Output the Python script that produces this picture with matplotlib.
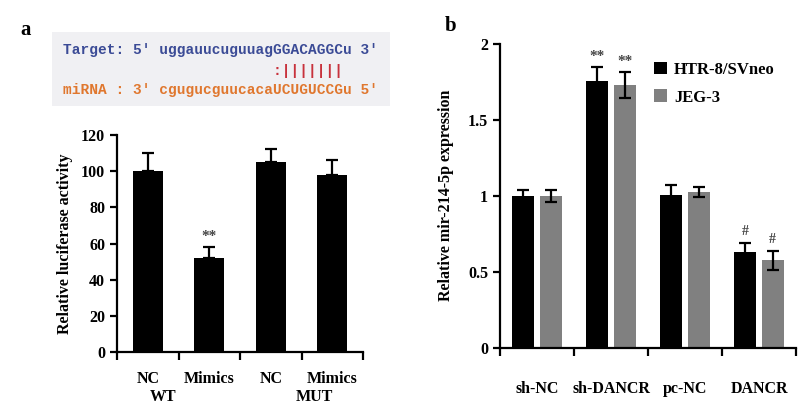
import matplotlib.pyplot as plt
import matplotlib.patches as mpatches
import numpy as np

plt.rcParams['font.family'] = 'Liberation Serif'
plt.rcParams['font.weight'] = 'bold'
plt.rcParams['axes.labelweight'] = 'bold'

# panel a data
luc_groups = ["NC", "Mimics", "NC", "Mimics"]
luc_mean = [100, 52, 105, 98]
luc_err = [10, 6, 7, 8]
luc_constructs = ["WT", "MUT"]
luc_ticks = [0, 20, 40, 60, 80, 100, 120]

# panel b data
expr_groups = ["sh-NC", "sh-DANCR", "pc-NC", "DANCR"]
expr_htr = [1.0, 1.755, 1.005, 0.63]
expr_htr_err = [0.035, 0.09, 0.065, 0.06]
expr_jeg = [1.0, 1.725, 1.027, 0.575]
expr_jeg_err = [0.04, 0.085, 0.032, 0.065]
expr_marks = ["", "**", "", "#"]
expr_ticks = [0, 0.5, 1, 1.5, 2]
expr_ticklabels = ["0", "0.5", "1", "1.5", "2"]

W, H = 800, 407
fig = plt.figure(figsize=(8, 4.07), dpi=100)


def px_axes(x0, y0, x1, y1):
    # pixel box (top-left origin) -> figure axes
    return fig.add_axes([x0 / W, 1 - y1 / H, (x1 - x0) / W, (y1 - y0) / H])


def fx(x):
    return x / W


def fy(y):
    return 1 - y / H


def style_axes(ax):
    for s in ["top", "right"]:
        ax.spines[s].set_visible(False)
    for s in ["left", "bottom"]:
        ax.spines[s].set_linewidth(1.6)
    ax.tick_params(axis="y", width=1.6, length=5, labelsize=11.5)
    ax.tick_params(axis="x", which="major", length=0, labelsize=11.5)
    ax.tick_params(axis="x", which="minor", width=1.6, length=6)


# ---- panel a ----
fig.text(fx(20), fy(30), "a", fontsize=15, fontweight="bold", va="center", ha="left")

box = mpatches.Rectangle((fx(52), fy(106)), fx(390) - fx(52), fy(32) - fy(106),
                         transform=fig.transFigure, facecolor="#f0f0f3", edgecolor="none")
fig.patches.append(box)
seq_font = dict(family="Liberation Mono", fontsize=10.45, fontweight="bold", va="center", ha="left")
fig.text(fx(63), fy(50), "Target: 5' uggauucuguuagGGACAGGCu 3'", color="#3b4b96", **seq_font)
fig.text(fx(63), fy(71), " " * 24 + ":|||||||", color="#c8323c", **seq_font)
fig.text(fx(63), fy(90), "miRNA : 3' cgugucguucacaUCUGUCCGu 5'", color="#e0772e", **seq_font)

ax1 = px_axes(117, 135, 363, 352)
xa = np.arange(1, len(luc_groups) + 1)
ax1.bar(xa, luc_mean, width=0.49, color="black")
ax1.errorbar(xa, luc_mean, yerr=[np.zeros(len(luc_err)), luc_err], fmt="none",
             ecolor="black", elinewidth=1.6, capsize=4, capthick=1.6)
ax1.text(xa[1], luc_mean[1] + luc_err[1] + 2, "**", ha="center", va="bottom", fontsize=11, color="#444444")
ax1.set_xlim(0.5, len(luc_groups) + 0.5)
ax1.set_ylim(0, 120)
ax1.set_yticks(luc_ticks)
ax1.set_xticks(xa)
ax1.set_xticklabels(luc_groups)
ax1.set_xticks(np.arange(0.5, len(luc_groups) + 1), minor=True)
style_axes(ax1)
ax1.tick_params(axis="x", which="major", pad=14)
ax1.set_ylabel("Relative luciferase activity", fontsize=11.5, labelpad=6)
fig.text(fx(163), fy(397), luc_constructs[0], fontsize=11.5, ha="center", va="center")
fig.text(fx(314), fy(397), luc_constructs[1], fontsize=11.5, ha="center", va="center")

# ---- panel b ----
fig.text(fx(445), fy(26), "b", fontsize=15, fontweight="bold", va="center", ha="left")

ax2 = px_axes(500, 43.5, 796, 348)
xb = np.arange(len(expr_groups))
off = 0.185
bw = 0.3
ax2.bar(xb - off, expr_htr, width=bw, color="black", label="HTR-8/SVneo")
ax2.bar(xb + off, expr_jeg, width=bw, color="#808080", label="JEG-3")
ax2.errorbar(xb - off, expr_htr, yerr=expr_htr_err, fmt="none", ecolor="black",
             elinewidth=1.6, capsize=4, capthick=1.6)
ax2.errorbar(xb + off, expr_jeg, yerr=expr_jeg_err, fmt="none", ecolor="black",
             elinewidth=1.6, capsize=4, capthick=1.6)
for i, m in enumerate(expr_marks):
    if m:
        fs = 10 if m == "#" else 11
        ax2.text(xb[i] - off, expr_htr[i] + expr_htr_err[i] + 0.03, m, ha="center", va="bottom",
                 fontsize=fs, color="#444444")
        ax2.text(xb[i] + off, expr_jeg[i] + expr_jeg_err[i] + 0.03, m, ha="center", va="bottom",
                 fontsize=fs, color="#444444")
ax2.set_xlim(-0.5, len(expr_groups) - 0.5)
ax2.set_ylim(0, 2)
ax2.set_yticks(expr_ticks)
ax2.set_yticklabels(expr_ticklabels)
ax2.set_xticks(xb)
ax2.set_xticklabels(expr_groups)
ax2.set_xticks(np.arange(-0.5, len(expr_groups)), minor=True)
style_axes(ax2)
ax2.tick_params(axis="x", which="major", pad=24)
ax2.set_ylabel("Relative mir-214-5p expression", fontsize=11.5, labelpad=10)
ax2.legend(loc="upper left", bbox_to_anchor=(0.47, 0.99),
           frameon=False, fontsize=12, handlelength=0.8, handleheight=0.8,
           handletextpad=0.4, labelspacing=0.7)

fig.savefig("out.png", dpi=100)
